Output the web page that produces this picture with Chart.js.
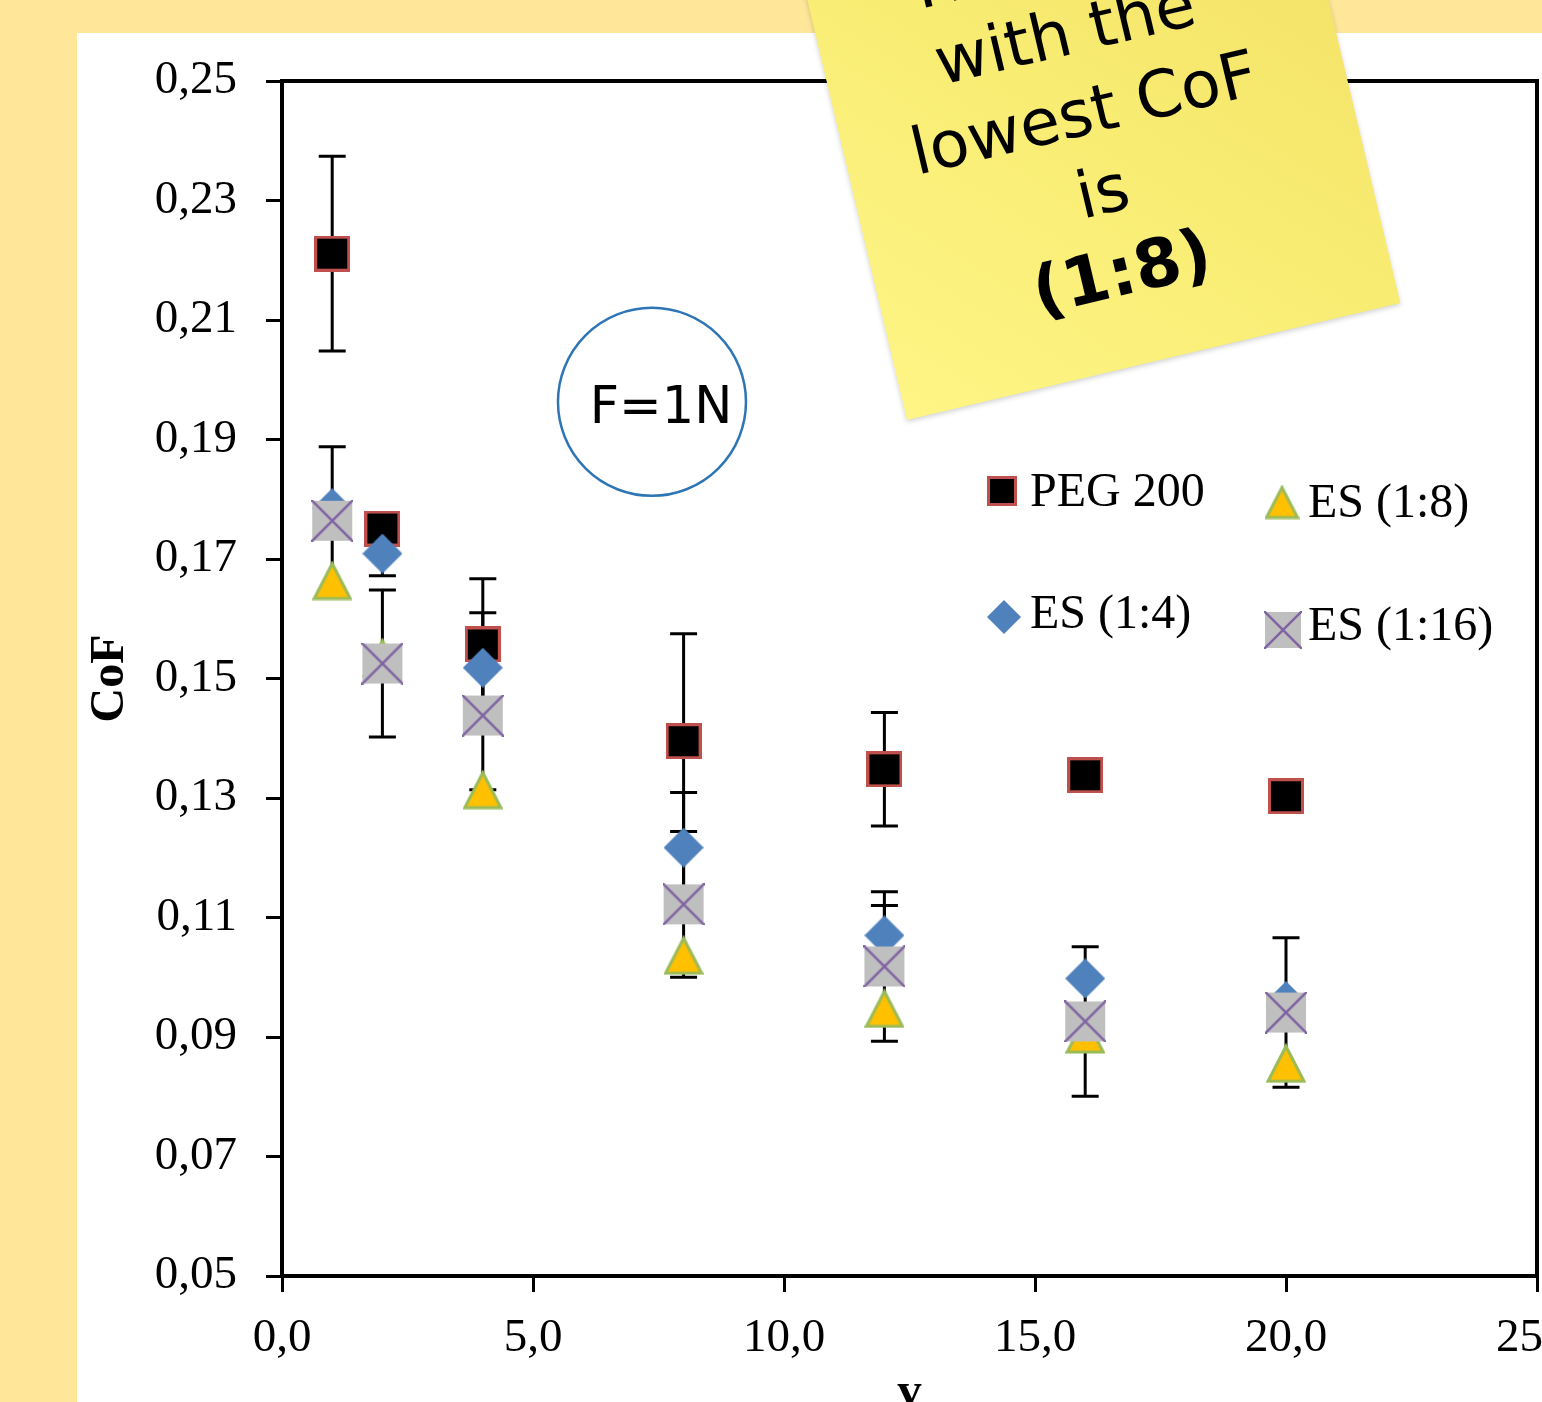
<!DOCTYPE html>
<html><head><meta charset="utf-8">
<script src="https://cdn.jsdelivr.net/npm/chart.js@4.4.1/dist/chart.umd.min.js"></script>
<style>
html,body{margin:0;padding:0;overflow:hidden;background:#FFE699;width:1542px;height:1402px}
#wrap{position:absolute;left:0;top:0;width:1620px;height:1445px}
</style></head>
<body><div id="wrap"><canvas id="c" width="1620" height="1445"></canvas></div>
<script>
// ---- data ----
const xValues = [1, 2, 4, 8, 12, 16, 20];
const seriesNames = ['PEG 200', 'ES (1:4)', 'ES (1:8)', 'ES (1:16)'];
const peg200 = [0.2211, 0.1751, 0.1557, 0.1395, 0.1348, 0.1338, 0.1303];
const peg200Err = [0.0163, 0, 0.0110, 0.0180, 0.0095, 0, 0];
const es14 = [0.1785, 0.1709, 0.1518, 0.1217, 0.1070, 0.0998, 0.0960];
const es14Err = [0, 0.0037, 0.0092, 0.0092, 0.0050, 0, 0];
const es18 = [0.1664, 0.1535, 0.1314, 0.1037, 0.0948, 0.0905, 0.0856];
const es18Err = [0, 0, 0, 0, 0, 0, 0];
const es116 = [0.1764, 0.1525, 0.1438, 0.1122, 0.1018, 0.0926, 0.0941];
const es116Err = [0.0124, 0.0123, 0.0124, 0.0122, 0.0125, 0.0125, 0.0125];
const xTickValues = [0, 5, 10, 15, 20, 25];
const xTickLabels = ['0,0', '5,0', '10,0', '15,0', '20,0', '25,0'];
const yTickValues = [0.05, 0.07, 0.09, 0.11, 0.13, 0.15, 0.17, 0.19, 0.21, 0.23, 0.25];
const yTickLabels = ['0,05', '0,07', '0,09', '0,11', '0,13', '0,15', '0,17', '0,19', '0,21', '0,23', '0,25'];
const xTitle = 'v';
const yTitle = 'CoF';
const circleText = 'F=1N';
const noteLines = ['The ratio', 'with the', 'lowest CoF', 'is', '(1:8)'];

// ---- marker images ----
function mk(w, h, draw) { const c = document.createElement('canvas'); c.width = w; c.height = h; draw(c.getContext('2d'), w, h); return c; }
function squareMarker(s) { return mk(s, s, (g, w) => { g.fillStyle = '#C0504D'; g.fillRect(0, 0, w, w); const b = Math.max(2, Math.round(w / 12)); g.fillStyle = '#000'; g.fillRect(b, b, w - 2 * b, w - 2 * b); }); }
function diamondMarker(s) { return mk(s, s, (g, w) => { g.fillStyle = '#4F81BD'; g.beginPath(); g.moveTo(w / 2, 0); g.lineTo(w, w / 2); g.lineTo(w / 2, w); g.lineTo(0, w / 2); g.closePath(); g.fill(); }); }
function triangleMarker(s) { return mk(s, s, (g, w) => { g.fillStyle = '#FFC000'; g.strokeStyle = '#9BBB59'; g.lineWidth = 3; g.lineJoin = 'miter'; g.beginPath(); g.moveTo(w / 2, 3); g.lineTo(w - 2, w - 2); g.lineTo(2, w - 2); g.closePath(); g.fill(); g.stroke(); }); }
function xboxMarker(s) { return mk(s + 2, s + 2, (g, w) => { g.fillStyle = '#BFBFBF'; g.fillRect(1, 1, w - 2, w - 2); g.strokeStyle = '#8064A2'; g.lineWidth = 2.5; g.beginPath(); g.moveTo(0, 0); g.lineTo(w, w); g.moveTo(w, 0); g.lineTo(0, w); g.stroke(); }); }

const markers = [squareMarker(36), diamondMarker(40), triangleMarker(40), xboxMarker(40)];
const legendMarkers = [squareMarker(30), diamondMarker(34), triangleMarker(35), xboxMarker(36)];

const seriesValues = [peg200, es14, es18, es116];
const seriesErrors = [peg200Err, es14Err, es18Err, es116Err];
const drawOrder = [4, 3, 2, 1];

const datasets = seriesNames.map((name, i) => ({
  label: name,
  data: xValues.map((x, j) => ({ x: x, y: seriesValues[i][j] })),
  errors: seriesErrors[i],
  pointStyle: markers[i],
  pointRadius: 20,
  showLine: false,
  order: drawOrder[i]
}));

// ---- plugins ----
const backgroundPlugin = {
  id: 'bg',
  beforeDraw(chart) {
    const g = chart.ctx;
    g.save();
    g.fillStyle = '#FFE699'; g.fillRect(0, 0, chart.width, chart.height);
    g.fillStyle = '#FFFFFF'; g.fillRect(77, 33, chart.width - 77, chart.height - 33);
    g.restore();
  }
};

const errorBarPlugin = {
  id: 'errbars',
  beforeDatasetsDraw(chart) {
    const g = chart.ctx, xs = chart.scales.x, ys = chart.scales.y;
    const a = chart.chartArea;
    g.save();
    g.strokeStyle = '#000'; g.lineWidth = 4;
    g.strokeRect(a.left, a.top, a.right - a.left, a.bottom - a.top);
    g.lineWidth = 3; g.lineCap = 'butt';
    chart.data.datasets.forEach(ds => {
      ds.data.forEach((p, j) => {
        const e = ds.errors[j];
        if (!e) return;
        const px = xs.getPixelForValue(p.x);
        const t = ys.getPixelForValue(p.y + e), b = ys.getPixelForValue(p.y - e);
        g.beginPath();
        g.moveTo(px, t); g.lineTo(px, b);
        g.moveTo(px - 13.5, t); g.lineTo(px + 13.5, t);
        g.moveTo(px - 13.5, b); g.lineTo(px + 13.5, b);
        g.stroke();
      });
    });
    g.restore();
  }
};

const overlayPlugin = {
  id: 'overlay',
  afterDraw(chart) {
    const g = chart.ctx, xs = chart.scales.x, ys = chart.scales.y;
    g.save();
    // circle annotation
    const cx = xs.getPixelForValue(7.37), cy = ys.getPixelForValue(0.1963);
    g.strokeStyle = '#2E75B6'; g.lineWidth = 2.5;
    g.beginPath(); g.arc(cx, cy, 94, 0, Math.PI * 2); g.stroke();
    g.fillStyle = '#000'; g.font = '51px "DejaVu Sans"'; g.textAlign = 'center'; g.textBaseline = 'alphabetic';
    g.fillText(circleText, cx + 9, cy + 21);

    // legend
    const items = [
      { i: 0, mx: 1002, my: 491, tx: 1030, ty: 490 },
      { i: 2, mx: 1282, my: 502, tx: 1308, ty: 501 },
      { i: 1, mx: 1004, my: 617, tx: 1030, ty: 612 },
      { i: 3, mx: 1283, my: 630, tx: 1308, ty: 624 }
    ];
    g.font = '48px "Liberation Serif"'; g.textAlign = 'left'; g.textBaseline = 'alphabetic';
    items.forEach(it => {
      const m = legendMarkers[it.i];
      g.drawImage(m, it.mx - m.width / 2, it.my - m.height / 2);
      g.fillStyle = '#000';
      g.fillText(seriesNames[it.i], it.tx, it.ty + 16);
    });

    // sticky note
    g.translate(907, 420);
    g.rotate(-13.35 * Math.PI / 180);
    const W = 507, H = 507;
    g.save();
    g.shadowColor = 'rgba(0,0,0,0.18)'; g.shadowBlur = 5; g.shadowOffsetY = 2;
    const grad = g.createLinearGradient(0, 0, W, -H);
    grad.addColorStop(0, '#FEF586');
    grad.addColorStop(0.5, '#F8EC72');
    grad.addColorStop(1, '#F2E064');
    g.fillStyle = grad;
    g.fillRect(0, -H, W, H);
    g.restore();
    g.fillStyle = '#000'; g.textAlign = 'center'; g.textBaseline = 'middle';
    const ly = [-414, -335, -253, -172, -89];
    noteLines.forEach((t, k) => {
      g.font = (k === noteLines.length - 1) ? 'bold 67px "DejaVu Sans"' : '65px "DejaVu Sans"';
      g.fillText(t, 243, ly[k]);
    });
    g.restore();
  }
};

Chart.defaults.font.family = '"Liberation Serif"';
Chart.defaults.color = '#000';

new Chart(document.getElementById('c'), {
  type: 'scatter',
  data: { datasets: datasets },
  options: {
    responsive: false,
    devicePixelRatio: 1,
    animation: false,
    events: [],
    layout: { padding: { left: 77, top: 81, right: 83, bottom: 0 } },
    plugins: { legend: { display: false }, tooltip: { enabled: false } },
    scales: {
      x: {
        type: 'linear', min: 0, max: 25,
        afterBuildTicks: s => { s.ticks = xTickValues.map(v => ({ value: v })); },
        afterFit: s => { s.height = 169; },
        ticks: { callback: (v, i) => xTickLabels[i], font: { size: 47 }, color: '#000', padding: 18, maxRotation: 0, autoSkip: false },
        grid: { display: true, drawOnChartArea: false, drawTicks: true, tickLength: 16, tickWidth: 3, tickColor: '#000' },
        border: { display: false },
        title: { display: true, text: xTitle, font: { size: 48, weight: 'bold' }, color: '#000', padding: { top: 0, bottom: 23 } }
      },
      y: {
        type: 'linear', min: 0.05, max: 0.25,
        afterBuildTicks: s => { s.ticks = yTickValues.map(v => ({ value: v })); },
        afterFit: s => { s.width = 205; },
        ticks: { callback: (v, i) => yTickLabels[i], font: { size: 47 }, color: '#000', padding: 29, autoSkip: false },
        grid: { display: true, drawOnChartArea: false, drawTicks: true, tickLength: 16, tickWidth: 3, tickColor: '#000' },
        border: { display: false },
        title: { display: true, text: yTitle, font: { size: 48, weight: 'bold' }, color: '#000', padding: { top: 5, bottom: 0 } }
      }
    }
  },
  plugins: [backgroundPlugin, errorBarPlugin, overlayPlugin]
});
</script>
</body></html>
